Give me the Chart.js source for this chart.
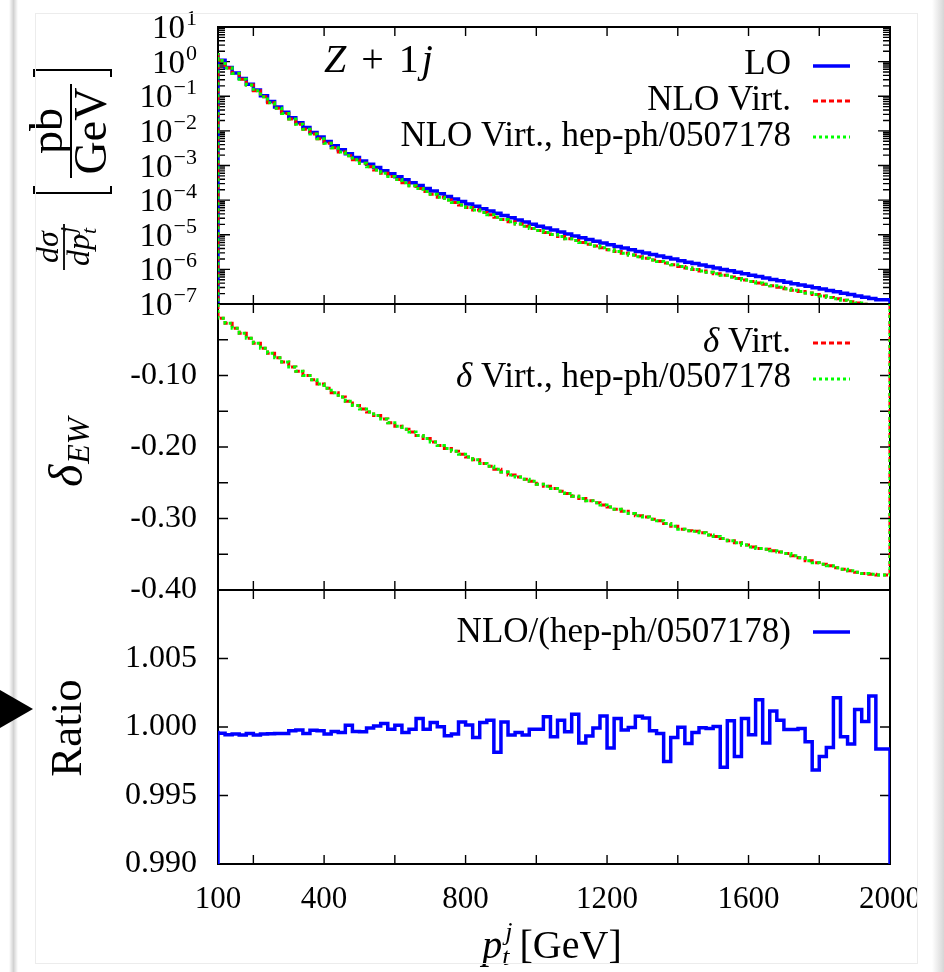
<!DOCTYPE html>
<html>
<head>
<meta charset="utf-8">
<title>Z + 1j, NLO virtual EW corrections</title>
<script src="https://cdn.jsdelivr.net/npm/chart.js@4.4.1/dist/chart.umd.min.js"></script>
<style>
  html, body { margin: 0; padding: 0; background: #fff; }
  #page { position: relative; width: 944px; height: 972px; overflow: hidden; background: #fff; }
  #page canvas { position: absolute; left: 0; top: 0; }
  .box { position: absolute; left: 35px; top: 13px; width: 883px; height: 951px; border: 1px solid #ececec; box-sizing: border-box; }
  .cut { position: absolute; left: 918px; top: 0; width: 26px; height: 972px; background: #fff; }
  .shadowL { position: absolute; left: 9px; top: 0; width: 9px; height: 972px; background: linear-gradient(to right, #fff, #d2d2d2, #fff); }
  .shadowR { position: absolute; left: 932px; top: 0; width: 12px; height: 972px; background: linear-gradient(to right, #fff, #d6d6d6); }
  .arrow { position: absolute; left: 0; top: 690px; width: 0; height: 0; border-top: 19px solid transparent; border-bottom: 19px solid transparent; border-left: 33px solid #000; }
</style>
</head>
<body>
<div id="page">
  <canvas id="topChart" width="944" height="972"></canvas>
  <canvas id="midChart" width="944" height="972"></canvas>
  <canvas id="ratioChart" width="944" height="972"></canvas>
  <div class="box"></div>
  <div class="cut"></div>
  <div class="shadowL"></div>
  <div class="shadowR"></div>
  <div class="arrow"></div>
</div>
<script>
const SERIF = '"Liberation Serif", "DejaVu Serif", serif';

// 20 GeV bins in p_t^j
const binEdges = [
  100, 120, 140, 160, 180, 200, 220, 240, 260, 280,
  300, 320, 340, 360, 380, 400, 420, 440, 460, 480,
  500, 520, 540, 560, 580, 600, 620, 640, 660, 680,
  700, 720, 740, 760, 780, 800, 820, 840, 860, 880,
  900, 920, 940, 960, 980, 1000, 1020, 1040, 1060, 1080,
  1100, 1120, 1140, 1160, 1180, 1200, 1220, 1240, 1260, 1280,
  1300, 1320, 1340, 1360, 1380, 1400, 1420, 1440, 1460, 1480,
  1500, 1520, 1540, 1560, 1580, 1600, 1620, 1640, 1660, 1680,
  1700, 1720, 1740, 1760, 1780, 1800, 1820, 1840, 1860, 1880,
  1900, 1920, 1940, 1960, 1980, 2000
];

// dsigma/dpt [pb/GeV], LO
const loXsec = [
  1.78, 1.10, 0.676, 0.467, 0.323, 0.223, 0.152, 0.103, 0.0700, 0.0489,
  0.0343, 0.0240, 0.01726, 0.01247, 0.00902, 0.00667, 0.00497, 0.00370, 0.00284, 0.00220,
  0.00171, 0.00136, 0.00109, 8.77e-4, 7.10e-4, 5.79e-4, 4.72e-4, 3.87e-4, 3.19e-4, 2.63e-4,
  2.18e-4, 1.82e-4, 1.52e-4, 1.27e-4, 1.08e-4, 9.14e-5, 7.76e-5, 6.64e-5, 5.68e-5, 4.86e-5,
  4.18e-5, 3.60e-5, 3.10e-5, 2.68e-5, 2.32e-5, 2.01e-5, 1.77e-5, 1.56e-5, 1.37e-5, 1.20e-5,
  1.05e-5, 9.27e-6, 8.24e-6, 7.33e-6, 6.53e-6, 5.81e-6, 5.16e-6, 4.60e-6, 4.12e-6, 3.69e-6,
  3.31e-6, 2.99e-6, 2.69e-6, 2.43e-6, 2.19e-6, 1.98e-6, 1.78e-6, 1.61e-6, 1.47e-6, 1.33e-6,
  1.21e-6, 1.10e-6, 9.98e-7, 9.06e-7, 8.22e-7, 7.46e-7, 6.79e-7, 6.18e-7, 5.62e-7, 5.12e-7,
  4.67e-7, 4.25e-7, 3.87e-7, 3.54e-7, 3.23e-7, 2.95e-7, 2.69e-7, 2.45e-7, 2.24e-7, 2.05e-7,
  1.87e-7, 1.71e-7, 1.57e-7, 1.44e-7, 1.32e-7
];

// NLO virtual
const nloVirtXsec = [
  1.76, 1.08, 0.658, 0.451, 0.310, 0.212, 0.144, 0.0966, 0.0652, 0.0452,
  0.0315, 0.0219, 0.01564, 0.01122, 0.00806, 0.00592, 0.00438, 0.00324, 0.00247, 0.00190,
  0.00147, 0.00116, 9.25e-4, 7.40e-4, 5.96e-4, 4.83e-4, 3.91e-4, 3.19e-4, 2.62e-4, 2.15e-4,
  1.77e-4, 1.47e-4, 1.22e-4, 1.01e-4, 8.58e-5, 7.22e-5, 6.10e-5, 5.19e-5, 4.41e-5, 3.76e-5,
  3.21e-5, 2.75e-5, 2.36e-5, 2.03e-5, 1.75e-5, 1.51e-5, 1.32e-5, 1.16e-5, 1.02e-5, 8.86e-6,
  7.72e-6, 6.78e-6, 6.00e-6, 5.31e-6, 4.71e-6, 4.18e-6, 3.69e-6, 3.28e-6, 2.93e-6, 2.61e-6,
  2.33e-6, 2.10e-6, 1.88e-6, 1.69e-6, 1.52e-6, 1.36e-6, 1.22e-6, 1.10e-6, 1.00e-6, 9.04e-7,
  8.20e-7, 7.43e-7, 6.71e-7, 6.06e-7, 5.47e-7, 4.95e-7, 4.48e-7, 4.07e-7, 3.69e-7, 3.35e-7,
  3.05e-7, 2.77e-7, 2.51e-7, 2.28e-7, 2.07e-7, 1.88e-7, 1.71e-7, 1.55e-7, 1.41e-7, 1.29e-7,
  1.17e-7, 1.07e-7, 9.79e-8, 8.96e-8, 8.20e-8
];

// relative EW correction delta_EW
const deltaVirt = [
  -0.013, -0.020, -0.027, -0.034, -0.041, -0.048, -0.055, -0.062, -0.069, -0.075,
  -0.081, -0.088, -0.094, -0.100, -0.106, -0.112, -0.118, -0.124, -0.130, -0.136,
  -0.142, -0.147, -0.151, -0.156, -0.161, -0.166, -0.171, -0.175, -0.179, -0.184,
  -0.188, -0.193, -0.198, -0.202, -0.206, -0.210, -0.214, -0.218, -0.223, -0.227,
  -0.231, -0.235, -0.239, -0.242, -0.245, -0.248, -0.252, -0.255, -0.258, -0.262,
  -0.265, -0.269, -0.272, -0.275, -0.278, -0.281, -0.284, -0.287, -0.290, -0.293,
  -0.296, -0.298, -0.301, -0.303, -0.307, -0.311, -0.315, -0.317, -0.318, -0.320,
  -0.323, -0.325, -0.328, -0.331, -0.334, -0.337, -0.340, -0.342, -0.343, -0.345,
  -0.347, -0.349, -0.352, -0.355, -0.359, -0.362, -0.364, -0.366, -0.369, -0.371,
  -0.373, -0.375, -0.377, -0.378, -0.379
];

// NLO / (hep-ph/0507178)
const ratioNloHep = [
  0.99972, 0.99955, 0.99943, 0.99948, 0.99941, 0.99953, 0.99941, 0.99948, 0.99950, 0.99953,
  0.99953, 0.99972, 0.99979, 0.99953, 0.99977, 0.99972, 0.99948, 0.99967, 0.99960, 1.00013,
  0.99967, 0.99965, 0.99992, 1.00008, 1.00025, 0.99984, 1.00013, 0.99960, 0.99984, 1.00062,
  0.99984, 1.00033, 1.00001, 0.99936, 0.99948, 1.00037, 1.00015, 0.99924, 1.00033, 1.00050,
  0.99815, 1.00037, 0.99941, 0.99960, 0.99941, 0.99984, 0.99984, 1.00074, 0.99929, 1.00050,
  0.99965, 1.00093, 0.99883, 0.99934, 0.99992, 1.00081, 0.99847, 1.00062, 0.99979, 0.99996,
  1.00078, 1.00066, 0.99972, 0.99953, 0.99748, 0.99924, 0.99999, 0.99880, 0.99960, 0.99994,
  0.99989, 1.00004, 0.99707, 1.00045, 0.99784, 1.00062, 0.99943, 1.00199, 0.99883, 1.00117,
  1.00050, 0.99982, 0.99982, 0.99989, 0.99893, 0.99687, 0.99784, 0.99851, 1.00214, 0.99929,
  0.99876, 1.00127, 1.00040, 1.00226, 0.99839
];

// the hep-ph/0507178 curves lie on top of ours (they differ by < 0.3 %, see ratio)
const nloVirtHepXsec = nloVirtXsec;
const deltaVirtHep = deltaVirt;

const xTickValues = [100, 200, 400, 600, 800, 1000, 1200, 1400, 1600, 1800, 2000];
const xTickLabels = ['100', '', '400', '', '800', '', '1200', '', '1600', '', '2000'];
const topDecades = [1, 0, -1, -2, -3, -4, -5, -6, -7];
const deltaTickValues = [-0.40, -0.35, -0.30, -0.25, -0.20, -0.15, -0.10, -0.05, 0];
const deltaTickLabels = ['-0.40', '', '-0.30', '', '-0.20', '', '-0.10', '', ''];
const ratioTickValues = [0.990, 0.995, 1.000, 1.005, 1.010];
const ratioTickLabels = ['0.990', '0.995', '1.000', '1.005', ''];

const BLUE = '#0000ff', RED = '#ff0000', GREEN = '#00ff00';

// minor log ticks 1..9 x 10^e
const logTickValues = [];
topDecades.slice(1).reverse().forEach(e => {
  for (let m = 1; m <= 9; m++) logTickValues.push(m * Math.pow(10, e));
});
logTickValues.push(10);

// histogram path: rises from the floor at the first edge, drops back at the last
function histo(values, floor) {
  const last = binEdges[binEdges.length - 1];
  const pts = [{x: binEdges[0], y: floor}];
  values.forEach((v, i) => pts.push({x: binEdges[i], y: v}));
  pts.push({x: last, y: values[values.length - 1]});
  pts.push({x: last, y: floor});
  return pts;
}

function richText(ctx, parts, x, y, align) {
  let total = 0;
  parts.forEach(p => {
    ctx.font = (p.it ? 'italic ' : '') + p.px + 'px ' + SERIF;
    p.w = ctx.measureText(p.t).width;
    if (p.adv !== false) total += p.w + (p.gap || 0);
  });
  let cx = align === 'right' ? x - total : align === 'center' ? x - total / 2 : x;
  ctx.textAlign = 'left';
  ctx.textBaseline = 'alphabetic';
  parts.forEach(p => {
    ctx.font = (p.it ? 'italic ' : '') + p.px + 'px ' + SERIF;
    ctx.fillText(p.t, cx + (p.dx || 0), y + (p.dy || 0));
    if (p.adv !== false) cx += p.w + (p.gap || 0);
  });
}

// frame + inward tick marks on all four sides
function frameTicks(tickLen) {
  return {
    id: 'frameTicks',
    beforeDatasetsDraw(chart) {
      const {ctx, chartArea: a} = chart;
      const xs = chart.scales.x, ys = chart.scales.y;
      ctx.save();
      ctx.strokeStyle = '#000';
      ctx.lineWidth = 1.4;
      ctx.beginPath();
      xTickValues.forEach(v => {
        const px = xs.getPixelForValue(v);
        ctx.moveTo(px, a.top); ctx.lineTo(px, a.top + 9);
        ctx.moveTo(px, a.bottom); ctx.lineTo(px, a.bottom - 9);
      });
      ys.ticks.forEach(t => {
        const py = ys.getPixelForValue(t.value);
        const len = tickLen(t.value);
        ctx.moveTo(a.left, py); ctx.lineTo(a.left + len, py);
        ctx.moveTo(a.right, py); ctx.lineTo(a.right - len, py);
      });
      ctx.stroke();
      ctx.lineWidth = 2;
      ctx.strokeRect(a.left, a.top, a.right - a.left, a.bottom - a.top);
      ctx.restore();
    }
  };
}

// gnuplot-style key: right-aligned text, sample line on the right
function keyBox(rows, extra) {
  return {
    id: 'keyBox',
    afterDatasetsDraw(chart) {
      const {ctx, chartArea: a} = chart;
      ctx.save();
      rows.forEach(r => {
        ctx.fillStyle = '#000';
        richText(ctx, r.parts, a.right - 99, r.base, 'right');
        const ds = chart.data.datasets[r.ds];
        ctx.strokeStyle = ds.borderColor;
        ctx.lineWidth = ds.borderWidth;
        ctx.setLineDash(ds.borderDash || []);
        ctx.beginPath();
        ctx.moveTo(a.right - 77, r.line);
        ctx.lineTo(a.right - 40, r.line);
        ctx.stroke();
        ctx.setLineDash([]);
      });
      ctx.fillStyle = '#000';
      if (extra) extra(ctx, chart);
      ctx.restore();
    }
  };
}

function baseOptions(padTop, padBottom) {
  return {
    responsive: false,
    animation: false,
    devicePixelRatio: 1,
    layout: {padding: {left: 0, right: 54, top: padTop, bottom: padBottom}},
    plugins: {legend: {display: false}, tooltip: {enabled: false}},
    elements: {point: {radius: 0}, line: {tension: 0, borderJoinStyle: 'miter'}}
  };
}

const hiddenX = {type: 'linear', min: 100, max: 2000, display: false};
const tickFont = {family: SERIF, size: 32};
const KEY_PX = 35;

// ---------- top panel: cross sections ----------
const topOpts = baseOptions(27, 972 - 304);
topOpts.scales = {
  x: hiddenX,
  y: {
    type: 'logarithmic', min: 1e-7, max: 10,
    afterBuildTicks: s => { s.ticks = logTickValues.map(v => ({value: v})); },
    afterFit: s => { s.width = 218; },
    grid: {display: false, drawTicks: false},
    border: {display: false},
    ticks: {display: false}
  }
};

new Chart(document.getElementById('topChart'), {
  type: 'line',
  data: {
    datasets: [
      {label: 'LO', data: histo(loXsec, 1e-9), borderColor: BLUE, borderWidth: 3.5, stepped: 'after', order: 2},
      {label: 'NLO Virt.', data: histo(nloVirtXsec, 1e-9), borderColor: RED, borderWidth: 3, borderDash: [5, 3], stepped: 'after', order: 1},
      {label: 'NLO Virt., hep-ph/0507178', data: histo(nloVirtHepXsec, 1e-9), borderColor: GREEN, borderWidth: 3, borderDash: [3, 3], stepped: 'after', order: 0}
    ]
  },
  options: topOpts,
  plugins: [
    frameTicks(v => {
      const l = Math.log10(v);
      return Math.abs(l - Math.round(l)) < 1e-6 ? 12 : 7;
    }),
    keyBox([
      {ds: 0, base: 74, line: 66, parts: [{t: 'LO', px: KEY_PX}]},
      {ds: 1, base: 110, line: 101, parts: [{t: 'NLO Virt.', px: KEY_PX}]},
      {ds: 2, base: 146, line: 137, parts: [{t: 'NLO Virt., hep-ph/0507178', px: KEY_PX}]}
    ], (ctx, chart) => {
      const ys = chart.scales.y;
      // decade labels 10^e
      topDecades.forEach(e => {
        const py = ys.getPixelForValue(Math.pow(10, e));
        const sup = e < 0 ? '\u2212' + (-e) : String(e);
        ctx.font = '22px ' + SERIF;
        const ws = ctx.measureText(sup).width;
        ctx.textAlign = 'right';
        ctx.textBaseline = 'alphabetic';
        ctx.fillText(sup, 197, py - 2);
        ctx.font = '33px ' + SERIF;
        ctx.fillText('10', 197 - ws - 1, py + 11);
      });
      // process label
      richText(ctx, [
        {t: 'Z', px: 40, it: true, gap: 15},
        {t: '+', px: 40, gap: 15},
        {t: '1', px: 40, gap: 3},
        {t: 'j', px: 40, it: true}
      ], 324, 72, 'left');
      // y title: dsigma/dpt [pb/GeV]
      ctx.save();
      ctx.translate(71, 131);
      ctx.rotate(-Math.PI / 2);
      ctx.fillRect(-47, -1, 94, 2);
      richText(ctx, [{t: 'pb', px: 46}], 0, -9, 'center');
      richText(ctx, [{t: 'GeV', px: 46}], 0, 35, 'center');
      ctx.strokeStyle = '#000';
      ctx.lineWidth = 2;
      ctx.beginPath();
      ctx.moveTo(-55, -37); ctx.lineTo(-62, -37); ctx.lineTo(-62, 40); ctx.lineTo(-55, 40);
      ctx.moveTo(54, -37); ctx.lineTo(61, -37); ctx.lineTo(61, 40); ctx.lineTo(54, 40);
      ctx.stroke();
      ctx.restore();
      ctx.save();
      ctx.translate(64, 247);
      ctx.rotate(-Math.PI / 2);
      ctx.fillRect(-23, -0.9, 46, 1.8);
      richText(ctx, [{t: 'd\u03c3', px: 32, it: true}], 0, -6, 'center');
      richText(ctx, [
        {t: 'dp', px: 32, it: true},
        {t: 'j', px: 22, it: true, dy: -14, dx: 1, adv: false},
        {t: 't', px: 22, it: true, dy: 7}
      ], 0, 25, 'center');
      ctx.restore();
    })
  ]
});

// ---------- middle panel: delta_EW ----------
const midOpts = baseOptions(304, 972 - 590);
midOpts.scales = {
  x: hiddenX,
  y: {
    type: 'linear', min: -0.40, max: 0,
    afterBuildTicks: s => { s.ticks = deltaTickValues.map(v => ({value: v})); },
    afterFit: s => { s.width = 218; },
    grid: {display: false, drawTicks: false},
    border: {display: false},
    ticks: {callback: (v, i) => deltaTickLabels[i], font: tickFont, color: '#000', padding: 21, autoSkip: false}
  }
};

new Chart(document.getElementById('midChart'), {
  type: 'line',
  data: {
    datasets: [
      {label: '\u03b4 Virt.', data: histo(deltaVirt, 0), borderColor: RED, borderWidth: 3, borderDash: [5, 3], stepped: 'after', order: 1},
      {label: '\u03b4 Virt., hep-ph/0507178', data: histo(deltaVirtHep, 0), borderColor: GREEN, borderWidth: 3, borderDash: [3, 3], stepped: 'after', order: 0}
    ]
  },
  options: midOpts,
  plugins: [
    frameTicks(() => 10),
    keyBox([
      {ds: 0, base: 352, line: 343, parts: [{t: '\u03b4', px: KEY_PX, it: true}, {t: ' Virt.', px: KEY_PX}]},
      {ds: 1, base: 387, line: 379, parts: [{t: '\u03b4', px: KEY_PX, it: true}, {t: ' Virt., hep-ph/0507178', px: KEY_PX}]}
    ], ctx => {
      ctx.save();
      ctx.translate(82, 487);
      ctx.rotate(-Math.PI / 2);
      richText(ctx, [{t: '\u03b4', px: 48, it: true, gap: 1}, {t: 'EW', px: 32, it: true, dy: 7}], 0, 0, 'left');
      ctx.restore();
    })
  ]
});

// ---------- bottom panel: ratio ----------
const ratioOpts = baseOptions(590, 38);
ratioOpts.scales = {
  x: {
    type: 'linear', min: 100, max: 2000,
    afterBuildTicks: s => { s.ticks = xTickValues.map(v => ({value: v})); },
    afterFit: s => { s.height = 70; },
    grid: {display: false, drawTicks: false},
    border: {display: false},
    ticks: {callback: (v, i) => xTickLabels[i], font: {family: SERIF, size: 31}, color: '#000', padding: 17, autoSkip: false, maxRotation: 0}
  },
  y: {
    type: 'linear', min: 0.990, max: 1.010,
    afterBuildTicks: s => { s.ticks = ratioTickValues.map(v => ({value: v})); },
    afterFit: s => { s.width = 218; },
    grid: {display: false, drawTicks: false},
    border: {display: false},
    ticks: {callback: (v, i) => ratioTickLabels[i], font: tickFont, color: '#000', padding: 21, autoSkip: false}
  }
};

new Chart(document.getElementById('ratioChart'), {
  type: 'line',
  data: {
    datasets: [
      {label: 'NLO/(hep-ph/0507178)', data: histo(ratioNloHep, 0), borderColor: BLUE, borderWidth: 3.5, stepped: 'after'}
    ]
  },
  options: ratioOpts,
  plugins: [
    frameTicks(() => 10),
    keyBox([
      {ds: 0, base: 642, line: 632, parts: [{t: 'NLO/(hep-ph/0507178)', px: KEY_PX}]}
    ], ctx => {
      ctx.save();
      ctx.translate(81, 728);
      ctx.rotate(-Math.PI / 2);
      richText(ctx, [{t: 'Ratio', px: 45}], 0, 0, 'center');
      ctx.restore();
      richText(ctx, [
        {t: 'p', px: 40, it: true},
        {t: 'j', px: 26, it: true, dy: -18, dx: 3, adv: false},
        {t: 't', px: 26, it: true, dy: 7},
        {t: ' [GeV]', px: 40}
      ], 552, 958, 'center');
    })
  ]
});
</script>
</body>
</html>
